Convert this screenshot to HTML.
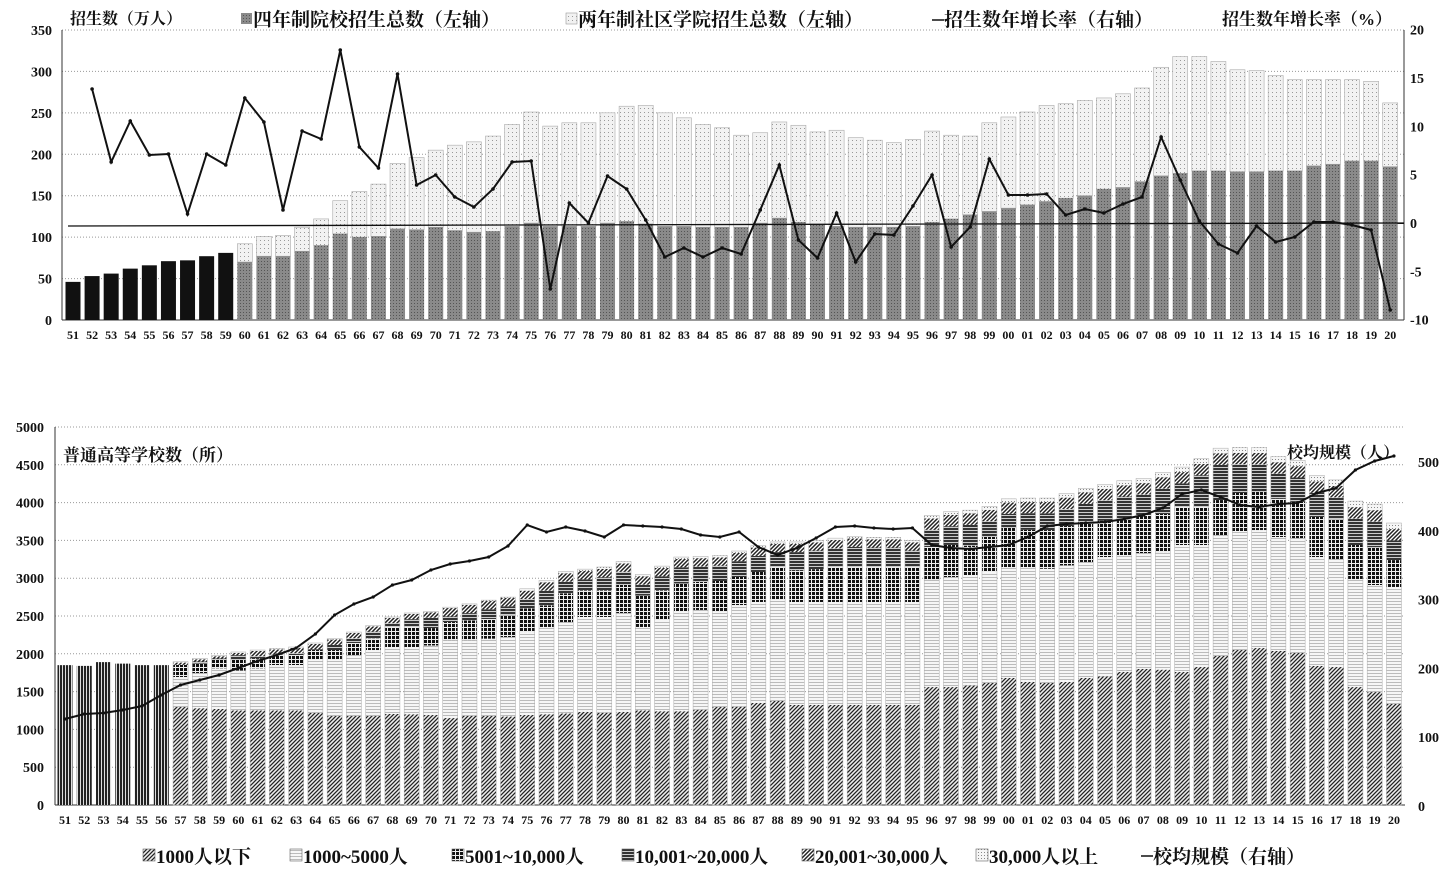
<!DOCTYPE html>
<html><head><meta charset="utf-8">
<style>
html,body{margin:0;padding:0;background:#fff;}
svg{display:block;}
text{font-family:"Liberation Serif","Noto Serif CJK SC",serif;font-weight:bold;fill:#111;}
</style></head><body>
<svg id="s" width="1440" height="870" xmlns="http://www.w3.org/2000/svg">
<defs>
<pattern id="pDark" width="3" height="3" patternUnits="userSpaceOnUse"><rect width="3" height="3" fill="#8a8a8a"/><rect width="1" height="1" fill="#555"/></pattern>
<pattern id="pLight" width="4" height="4" patternUnits="userSpaceOnUse"><rect width="4" height="4" fill="#f2f2f2"/><rect width="1" height="1" fill="#999"/></pattern>
<pattern id="pVert" width="3" height="3" patternUnits="userSpaceOnUse"><rect width="3" height="3" fill="#ddd"/><rect width="2" height="3" fill="#222"/></pattern>
<pattern id="p1" width="4" height="4" patternUnits="userSpaceOnUse"><rect width="4" height="4" fill="#eee"/><path d="M-1,1 l2,-2 M0,4 l4,-4 M3,5 l2,-2" stroke="#222" stroke-width="1.3"/></pattern>
<pattern id="p2" width="4" height="3" patternUnits="userSpaceOnUse"><rect width="4" height="3" fill="#f6f6f6"/><rect y="1" width="4" height="1" fill="#bbb"/></pattern>
<pattern id="p3" width="4" height="4" patternUnits="userSpaceOnUse"><rect width="4" height="4" fill="#eee"/><rect width="3" height="3" fill="#111"/></pattern>
<pattern id="p4" width="3" height="3" patternUnits="userSpaceOnUse"><rect width="3" height="3" fill="#ccc"/><rect width="3" height="2" fill="#333"/></pattern>
<pattern id="p5" width="4" height="4" patternUnits="userSpaceOnUse"><rect width="4" height="4" fill="#fff"/><path d="M-1,1 l2,-2 M0,4 l4,-4 M3,5 l2,-2" stroke="#222" stroke-width="1.5"/></pattern>
<pattern id="p6" width="3" height="3" patternUnits="userSpaceOnUse"><rect width="3" height="3" fill="#f6f6f6"/><rect width="1" height="1" fill="#888"/></pattern>
</defs>
<g id="g"></g>
</svg>
<script>
var g=document.getElementById('g'),h='';
var yrs=[];for(var i=0;i<70;i++){var y=(51+i)%100;yrs.push((y<10?'0':'')+y);}
function T(x,y,t,a,sz){h+='<text x="'+x+'" y="'+y+'" font-size="'+(sz||13)+'" text-anchor="'+(a||'middle')+'">'+t+'</text>';}
function R(x,y,w,hh,f,st){h+='<rect x="'+x+'" y="'+y+'" width="'+w+'" height="'+hh+'" fill="'+f+'"'+(st?' stroke="'+st+'" stroke-width="0.6"':'')+'/>';}
var tk=0.8286;
for(var v=0;v<=350;v+=50){var y=320-v*tk;if(v>0)h+='<line x1="62" x2="1404" y1="'+y+'" y2="'+y+'" stroke="#999" stroke-dasharray="1,2"/>';T(52,y+5,v,'end',14);}
for(var r=-10;r<=20;r+=5){var y=223-r*9.667;T(1410,y+5,r,'start',14);}
h+='<line x1="62" x2="62" y1="30" y2="320" stroke="#333"/><line x1="1404" x2="1404" y1="30" y2="320" stroke="#333"/><line x1="62" x2="1404" y1="320" y2="320" stroke="#333"/>';
var tot=[46,53,56,62,66,71,72,77,81,92,101,102,112,122,144,155,164,189,196,205,211,215,222,236,251,234,238,238,250,258,259,250,244,236,232,223,226,239,235,227,229,220,217,214,218,228,223,222,238,245,251,259,261,265,268,273,280,305,318,318,312,302,301,295,290,290,290,290,288,262];
var dk=[46,53,56,62,66,71,72,77,81,70,77,77,83,90,104,100,101,110,109,112,108,106,107,113,117,113,113,113,117,119,116,113,113,112,112,112,117,123,118,115,113,112,112,112,113,118,122,127,131,135,139,143,147,150,158,160,167,174,177,180,180,179,179,180,180,186,188,192,192,185];
var gr=[null,89,162,121,155,154,214,154,165,98,122,210,131,139,50,147,168,74,185,175,197,207,189,162,161,289,203,223,176,189,220,257,248,257,248,254,210,165,240,258,213,262,234,235,206,175,247,227,159,195,195,194,215,209,213,204,197,137,180,221,244,253,226,242,237,222,222,225,230,310];
var tx=function(i){return 73+i*19.09;};
for(var i=0;i<70;i++){var x=tx(i)-7.5;
 if(i<9){R(x,320-tot[i]*tk,15,tot[i]*tk,'#111');}
 else{R(x,320-tot[i]*tk,15,(tot[i]-dk[i])*tk,'url(#pLight)','#aaa');R(x,320-dk[i]*tk,15,dk[i]*tk,'url(#pDark)');}
 T(tx(i),339,yrs[i],'middle',12);}
h+='<line x1="68" x2="1404" y1="226" y2="223" stroke="#111" stroke-width="1.3"/>';
var pts=[];for(var i=1;i<70;i++)pts.push(tx(i).toFixed(1)+','+gr[i]);
h+='<polyline points="'+pts.join(' ')+'" fill="none" stroke="#111" stroke-width="2"/>';
for(var i=1;i<70;i++)h+='<circle cx="'+tx(i)+'" cy="'+gr[i]+'" r="1.8" fill="#111"/>';
T(70,24,'招生数（万人）','start',16);
R(241,13,11,11,'url(#pDark)');T(253,26,'四年制院校招生总数（左轴）','start',19);
R(566,13,11,11,'url(#pLight)','#999');T(578,26,'两年制社区学院招生总数（左轴）','start',19);
h+='<line x1="932" x2="944" y1="20" y2="20" stroke="#111" stroke-width="1.5"/>';T(944,26,'招生数年增长率（右轴）','start',19);
T(1222,25,'招生数年增长率（%）','start',17);
var bk=0.0756,b0=805;
for(var v=0;v<=5000;v+=500){var y=b0-v*bk;if(v>0)h+='<line x1="55" x2="1405" y1="'+y+'" y2="'+y+'" stroke="#999" stroke-dasharray="1,2"/>';T(44,y+5,v,'end',14);}
for(var v=0;v<=500;v+=100){var y=806-v*0.688;T(1418,y+5,v,'start',14);}
h+='<line x1="55" x2="55" y1="427" y2="805" stroke="#333"/><line x1="55" x2="1405" y1="805" y2="805" stroke="#333"/>';
var bx=function(i){return 65+i*19.26;};
var old=[1850,1840,1890,1870,1850,1850];
var s1=[1296,1280,1270,1250,1250,1250,1250,1217,1177,1177,1177,1204,1200,1190,1150,1180,1177,1170,1190,1200,1210,1230,1220,1230,1250,1240,1240,1260,1296,1300,1350,1376,1323,1323,1323,1323,1323,1323,1323,1560,1560,1580,1614,1680,1627,1614,1627,1680,1700,1759,1799,1790,1759,1825,1971,2050,2076,2037,2011,1839,1825,1560,1494,1336];
var s2=[1693,1746,1808,1779,1808,1852,1852,1918,1918,1984,2050,2090,2090,2110,2182,2182,2200,2222,2288,2355,2420,2487,2487,2540,2355,2450,2560,2580,2553,2645,2685,2712,2685,2685,2685,2685,2685,2685,2685,2976,3016,3040,3082,3148,3148,3125,3170,3214,3280,3307,3333,3346,3439,3439,3571,3624,3637,3545,3531,3280,3254,2990,2910,2884];
var s3=[1852,1870,1918,1918,1940,1984,1984,2050,2050,2143,2200,2355,2355,2340,2420,2440,2460,2509,2600,2640,2800,2840,2840,2910,2770,2840,2930,2950,2963,3016,3082,3148,3104,3120,3148,3148,3148,3148,3148,3413,3440,3430,3545,3664,3640,3637,3690,3743,3760,3780,3836,3850,3942,3942,4034,4127,4140,4050,4010,3810,3780,3439,3410,3240];
var tt=[1896,1940,1980,2024,2050,2070,2090,2143,2200,2288,2375,2487,2540,2560,2617,2660,2710,2750,2860,2970,3090,3120,3148,3220,3050,3160,3280,3290,3300,3360,3430,3480,3480,3500,3530,3550,3540,3540,3500,3830,3880,3900,3950,4050,4060,4060,4120,4190,4240,4290,4320,4400,4470,4580,4720,4730,4730,4610,4560,4360,4300,4020,3980,3730];
function seg(x,a,b,f){if(b>a)R(x,b0-b*bk,15,(b-a)*bk,f);}
for(var i=0;i<70;i++){var x=bx(i)-7.5;
 if(i<6){R(x,b0-old[i]*bk,15,old[i]*bk,'url(#pVert)');}
 else{var j=i-6,t=tt[j],s6=i>=45?Math.min(80,40+(i-45)*2):(i>=24?25:12),s5=i>=20?(i>=45?150:110):(i>=10?70:30);
  var t5=t-s6,t4=t5-s5; if(t4<s3[j])t4=s3[j];
  seg(x,0,s1[j],'url(#p1)');seg(x,s1[j],s2[j],'url(#p2)');seg(x,s2[j],s3[j],'url(#p3)');seg(x,s3[j],t4,'url(#p4)');seg(x,t4,t5,'url(#p5)');seg(x,t5,t,'url(#p6)');
  h+='<rect x="'+x+'" y="'+(b0-t*bk)+'" width="15" height="'+(t*bk)+'" fill="none" stroke="#aaa" stroke-width="0.5"/>';}
 T(bx(i),824,yrs[i],'middle',12);}
var av=[719,714,713,710,706,695,685,680,675,668,661,655,648,634,615,604,597,585,580,570,564,561,557,546,525,532,527,531,537,525,526,527,529,535,537,532,547,555,548,538,527,526,528,529,528,545,548,549,547,545,537,526,524,523,522,519,515,508,494,490,497,505,507,504,503,493,488,470,461,456];
pts=[];for(var i=0;i<70;i++)pts.push(bx(i).toFixed(1)+','+av[i]);
h+='<polyline points="'+pts.join(' ')+'" fill="none" stroke="#111" stroke-width="2"/>';
for(var i=0;i<70;i++)h+='<circle cx="'+bx(i)+'" cy="'+av[i]+'" r="1.6" fill="#111"/>';
T(63,461,'普通高等学校数（所）','start',17);
T(1287,458,'校均规模（人）','start',16);
var L=[[143,'p1','1000人以下'],[290,'p2','1000~5000人'],[452,'p3','5001~10,000人'],[622,'p4','10,001~20,000人'],[802,'p5','20,001~30,000人'],[976,'p6','30,000人以上']];
L.forEach(function(l){R(l[0],849,12,12,'url(#'+l[1]+')','#666');T(l[0]+13,863,l[2],'start',19);});
h+='<line x1="1141" x2="1153" y1="856" y2="856" stroke="#111" stroke-width="1.5"/>';T(1153,863,'校均规模（右轴）','start',19);
g.innerHTML=h;
</script>
</body></html>
